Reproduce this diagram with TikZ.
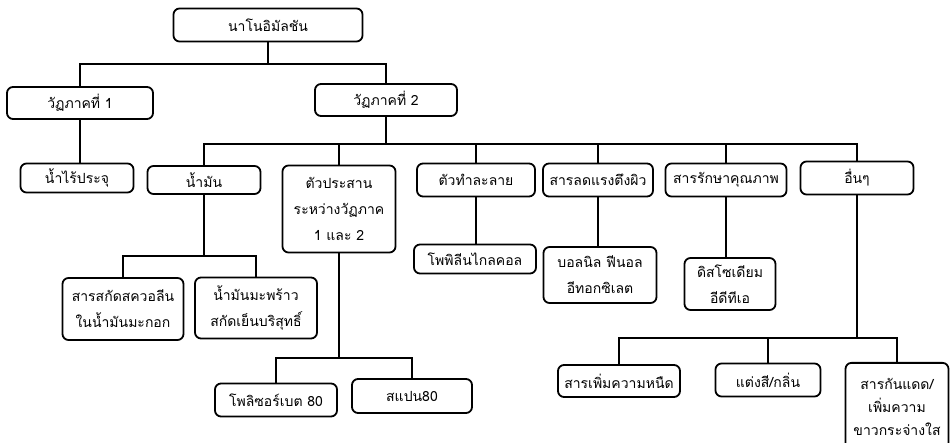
\documentclass[tikz,border=0pt]{standalone}
\usepackage{fontspec}
\newfontfamily\thaifont[Script=Thai]{Loma}

\begin{document}
\begin{tikzpicture}[x=1pt, y=-1pt,
  tbox/.style={draw, line width=1.8pt, rounded corners=6pt, align=center, inner sep=2pt,
    font=\thaifont\fontsize{14}{26}\selectfont},
  link/.style={line width=1.8pt}]
\clip (0,0) rectangle (950,443);

% Top node
\node[tbox, minimum width=189pt, minimum height=33pt] (nano) at (268,25) {นาโนอิมัลชัน};

% Phases
\node[tbox, minimum width=146pt, minimum height=32pt] (ph1) at (80,103) {วัฏภาคที่ 1};
\node[tbox, minimum width=142pt, minimum height=32pt] (ph2) at (386,100) {วัฏภาคที่ 2};

% Components
\node[tbox, minimum width=113pt, minimum height=29pt] (water) at (77,178) {น้ำไร้ประจุ};
\node[tbox, minimum width=113pt, minimum height=28pt] (oil) at (204,180) {น้ำมัน};
\node[tbox, minimum width=113pt, minimum height=87pt] (emul) at (339,209) {ตัวประสาน\\ระหว่างวัฏภาค\\1 และ 2};
\node[tbox, minimum width=118pt, minimum height=33pt] (solv) at (476,180) {ตัวทำละลาย};
\node[tbox, minimum width=110pt, minimum height=33pt] (surf) at (598,180) {สารลดแรงตึงผิว};
\node[tbox, minimum width=121pt, minimum height=33pt] (pres) at (726,180) {สารรักษาคุณภาพ};
\node[tbox, minimum width=113pt, minimum height=33pt] (other) at (857,178) {อื่นๆ};

% Examples
\node[tbox, minimum width=121pt, minimum height=62pt] (squal) at (123,309) {สารสกัดสควอลีน\\ในน้ำมันมะกอก};
\node[tbox, minimum width=122pt, minimum height=61pt] (coco) at (256,308) {น้ำมันมะพร้าว\\สกัดเย็นบริสุทธิ์};
\node[tbox, minimum width=122pt, minimum height=29pt] (propyl) at (475,259) {โพพิลีนไกลคอล};
\node[tbox, minimum width=113pt, minimum height=56pt] (nonyl) at (600,275) {บอลนิล ฟีนอล\\อีทอกซิเลต};
\node[tbox, minimum width=91pt, minimum height=52pt] (edta) at (730,284) {ดิสโซเดียม\\อีดีทีเอ};
\node[tbox, minimum width=122pt, minimum height=33pt] (poly) at (276,400) {โพลิซอร์เบต 80};
\node[tbox, minimum width=120pt, minimum height=34pt] (span) at (412,396) {สแปน80};
\node[tbox, minimum width=122pt, minimum height=32pt] (visc) at (619,381) {สารเพิ่มความหนืด};
\node[tbox, minimum width=105pt, minimum height=33pt] (color) at (768,380) {แต่งสี/กลิ่น};
\node[tbox, minimum width=103pt, minimum height=92pt, font=\thaifont\fontsize{14}{23}\selectfont,
  anchor=north, text depth=3pt] (sun) at (897,362) {สารกันแดด/\\เพิ่มความ\\ขาวกระจ่างใส};

% Bars
\coordinate (bar1) at (0,64);
\coordinate (bar2) at (0,144);
\coordinate (bar3) at (0,256);
\coordinate (bar4) at (0,358);
\coordinate (bar5) at (0,338);

% Connectors
\draw[link] (nano.south) -- (nano.south |- bar1);
\draw[link] (ph1.north) -- (ph1.north |- bar1) -- (ph2.north |- bar1) -- (ph2.north);
\draw[link] (ph1.south) -- (ph1.south |- water.north);

\draw[link] (ph2.south) -- (ph2.south |- bar2);
\draw[link] (oil.north) -- (oil.north |- bar2) -- (other.north |- bar2) -- (other.north);
\foreach \c in {emul,solv,surf,pres}
  \draw[link] (\c.north) -- (\c.north |- bar2);

\draw[link] (oil.south) -- (oil.south |- bar3);
\draw[link] (squal.north) -- (squal.north |- bar3) -- (coco.north |- bar3) -- (coco.north);

\draw[link] (solv.south) -- (solv.south |- propyl.north);
\draw[link] (surf.south) -- (surf.south |- nonyl.north);
\draw[link] (pres.south) -- (pres.south |- edta.north);

\draw[link] (emul.south) -- (emul.south |- bar4);
\draw[link] (poly.north) -- (poly.north |- bar4) -- (span.north |- bar4) -- (span.north);

\draw[link] (other.south) -- (other.south |- bar5);
\draw[link] (visc.north) -- (visc.north |- bar5) -- (sun.north |- bar5) -- (sun.north);
\draw[link] (color.north) -- (color.north |- bar5);
\end{tikzpicture}
\end{document}
